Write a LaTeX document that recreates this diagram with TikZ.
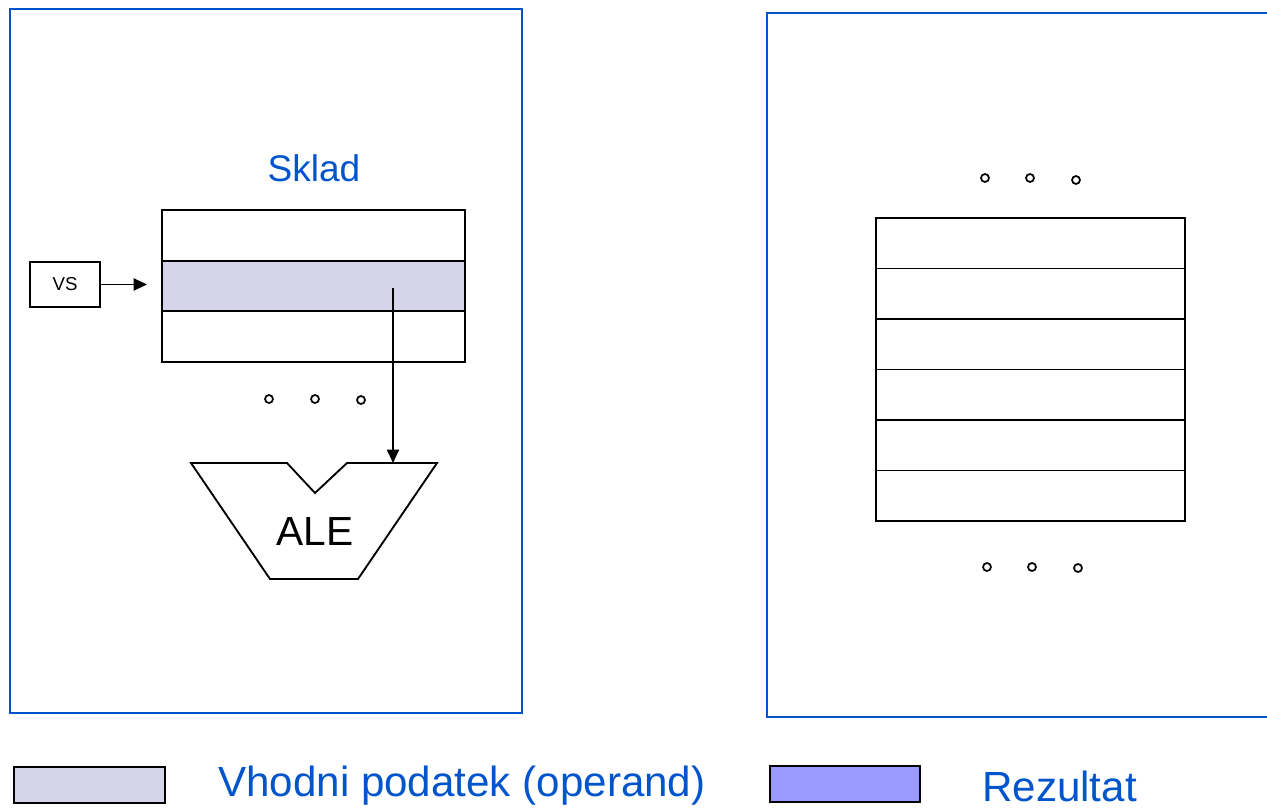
\documentclass[tikz,border=0pt]{standalone}
\usepackage{fontspec}
\setmainfont{Liberation Sans}
\usetikzlibrary{arrows.meta}
\definecolor{pblue}{RGB}{0,85,204}
\definecolor{oplav}{RGB}{213,213,234}
\definecolor{reslav}{RGB}{153,153,255}
\tikzset{
  panel/.style={draw=pblue, line width=2.2pt},
  cell/.style={draw=black, line width=1.4pt, rectangle, inner sep=0pt},
  lrow/.style={cell, minimum width=227.25pt, minimum height=37.6pt},
  rrow/.style={cell, minimum width=231.75pt, minimum height=37.9pt},
  dot/.style={draw=black, line width=1.3pt, circle, inner sep=0pt, minimum size=6pt},
  conn/.style={draw=black, line width=1.4pt, -{Triangle[length=10pt,width=9pt]}},
  btext/.style={text=pblue, inner sep=0pt},
}
\begin{document}
\begin{tikzpicture}[x=0.75pt, y=-0.75pt]
\useasboundingbox (0,0) rectangle (1267,809);
\begin{scope}
\clip (0,0) rectangle (1267,809);
% panels
\draw[panel] (10,9) rectangle (522,713);
\draw[panel] (1300,13) -- (767,13) -- (767,717) -- (1300,717);
\end{scope}

% left panel
\node[btext, font=\fontsize{27.8pt}{30pt}\selectfont] (sklad) at (314,168) {Sklad};
\node[lrow] (r1) at (313.5,235.5) {};
\node[lrow, fill=oplav] (r2) at (313.5,286) {};
\node[lrow] (r3) at (313.5,336.5) {};
\node[cell, minimum width=52.5pt, minimum height=33.75pt, font=\fontsize{14pt}{16pt}\selectfont] (vs) at (65,284.5) {VS};
\draw[conn, shorten >=10.5pt] (vs.east) -- (r2.west |- vs.east);

\node[dot] (d1) at (269,399) {};
\node[dot] (d2) at (315,399) {};
\node[dot] (d3) at (361,400) {};

% ALE shape
\coordinate (a1) at (191,463);
\coordinate (a2) at (287,463);
\coordinate (a3) at (315,493);
\coordinate (a4) at (347,463);
\coordinate (a5) at (437,463);
\coordinate (a6) at (358,579);
\coordinate (a7) at (270,579);
\draw[line width=1.4pt, line join=miter] (a1) -- (a2) -- (a3) -- (a4) -- (a5) -- (a6) -- (a7) -- cycle;
\node[font=\fontsize{30.5pt}{33pt}\selectfont, inner sep=0pt] (ale) at (315,532) {ALE};
\coordinate (src) at (393,288);
\coordinate (dst) at (393,463);
\draw[conn] (src) -- (dst);

% right panel
\node[dot] (e1) at (985,178) {};
\node[dot] (e2) at (1030,178) {};
\node[dot] (e3) at (1076,180) {};
\node[rrow] (s1) at (1030.5,243.25) {};
\node[rrow] (s2) at (1030.5,293.75) {};
\node[rrow] (s3) at (1030.5,344.25) {};
\node[rrow] (s4) at (1030.5,394.75) {};
\node[rrow] (s5) at (1030.5,445.25) {};
\node[rrow] (s6) at (1030.5,495.75) {};
\node[dot] (f1) at (987,567) {};
\node[dot] (f2) at (1032,567) {};
\node[dot] (f3) at (1078,568) {};

% legend
\node[cell, fill=oplav, minimum width=113.25pt, minimum height=27pt] (lg1) at (89.5,785) {};
\node[btext, anchor=west, font=\fontsize{31.6pt}{34pt}\selectfont] (lt1) at (218,786) {Vhodni podatek (operand)};
\node[cell, fill=reslav, minimum width=112.5pt, minimum height=27pt] (lg2) at (845,784) {};
\node[btext, anchor=west, font=\fontsize{31.6pt}{34pt}\selectfont] (lt2) at (982,786) {Rezultat};
\end{tikzpicture}
\end{document}
